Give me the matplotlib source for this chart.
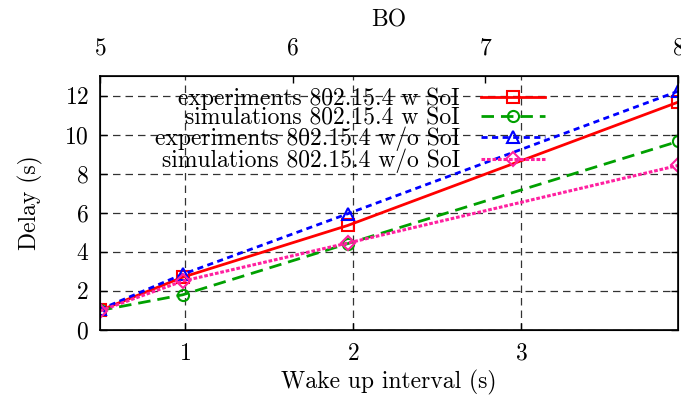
import matplotlib
matplotlib.use("Agg")
import matplotlib.pyplot as plt

plt.rcParams['font.family'] = ['cmr10', 'DejaVu Serif']
plt.rcParams['mathtext.fontset'] = 'cm'
plt.rcParams['axes.formatter.use_mathtext'] = True

# wake-up intervals for BO = 5..8 (2^BO * 15.36 ms)
bo_values = [5, 6, 7, 8]
wake_up = [0.49152, 0.98304, 1.96608, 3.93216]

exp_w_soi = [1.0, 2.7, 5.35, 11.66]
sim_w_soi = [1.0, 1.8, 4.42, 9.65]
exp_wo_soi = [1.05, 2.85, 5.95, 12.22]
sim_wo_soi = [0.98, 2.5, 4.45, 8.42]

labels = ["experiments 802.15.4 w SoI",
          "simulations 802.15.4 w SoI",
          "experiments 802.15.4 w/o SoI",
          "simulations 802.15.4 w/o SoI"]

FS = 17

fig = plt.figure(figsize=(6.81, 3.97), dpi=100)
ax = fig.add_axes([100 / 681, 1 - 330 / 397, 578 / 681, (330 - 76) / 397])

ms = 8
mew = 1.5
ax.plot(wake_up, exp_w_soi, color='#ff0000', lw=2, ls='-', marker='s',
        ms=ms, mfc='none', mew=mew, label=labels[0])
ax.plot(wake_up, sim_w_soi, color='#00a000', lw=2, ls=(0, (4.5, 2.5)), marker='o',
        ms=ms, mfc='none', mew=mew, label=labels[1])
ax.plot(wake_up, exp_wo_soi, color='#0000ff', lw=2, ls=(0, (2.2, 1.6)), marker='^',
        ms=ms, mfc='none', mew=mew, label=labels[2])
ax.plot(wake_up, sim_wo_soi, color='#ff20a0', lw=2.2, ls=(0, (1.2, 0.6)), marker='D',
        ms=ms - 1, mfc='none', mew=mew, label=labels[3])

ax.set_xlim(wake_up[0], wake_up[-1])
ax.set_ylim(0, 13)
ax.set_xticks([1, 2, 3])
ax.set_yticks([0, 2, 4, 6, 8, 10, 12])
ax.tick_params(direction='in', length=5, width=1, labelsize=FS, top=True, right=True)
ax.tick_params(axis='x', pad=9)
ax.tick_params(axis='y', pad=8)
ax.grid(True, color='black', ls=(0, (6, 4)), lw=0.9, alpha=0.8)
ax.set_axisbelow(True)
for s in ax.spines.values():
    s.set_linewidth(1.2)

ax.set_xlabel("Wake up interval (s)", fontsize=FS, labelpad=4)
ax.set_ylabel("Delay (s)", fontsize=FS, labelpad=15)

top = ax.twiny()
top.set_xlim(bo_values[0], bo_values[-1])
top.set_xticks(bo_values)
top.tick_params(direction='in', length=5, width=1, labelsize=FS, pad=12)
top.set_xlabel("BO", fontsize=FS, labelpad=8)

leg = ax.legend(loc='upper right', bbox_to_anchor=(0.79, 1.0), frameon=False,
                markerfirst=False, fontsize=FS, handlelength=2.7,
                handletextpad=0.9, labelspacing=-0.12, borderaxespad=0.1)
for t in leg.get_texts():
    t.set_ha('right')
leg._legend_box.align = 'right'

fig.savefig("out.png", dpi=100)
